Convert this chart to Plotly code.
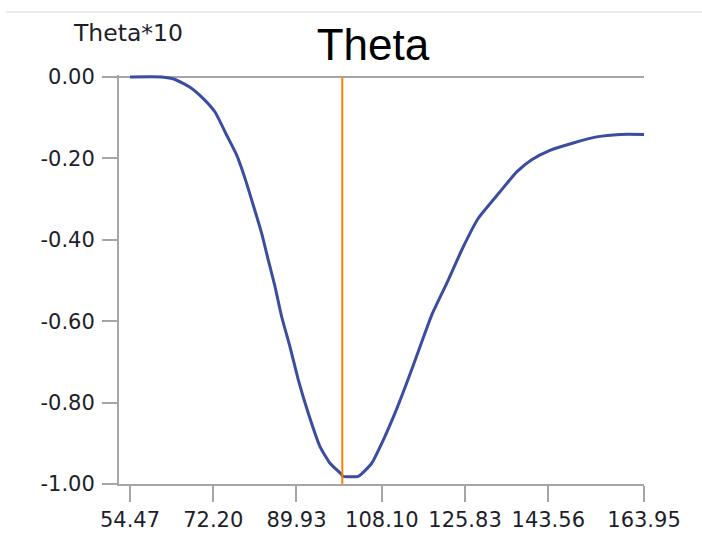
import plotly.graph_objects as go

W, H = 702, 533

# ---- data ----
theta_x = [54.47, 61.22, 64.06, 67.25, 70.08, 72.58, 75.07, 77.20, 78.97, 80.73,
           82.52, 83.93, 85.36, 86.78, 88.55, 90.32, 92.45, 94.94, 97.07, 99.56,
           99.73, 103.10, 105.95, 108.42, 110.91, 113.41, 116.24, 118.73, 121.93,
           125.46, 128.66, 133.28, 136.84, 140.03, 143.93, 148.89, 153.88, 158.84,
           163.95]
theta_y = [0.000, 0.000, -0.006, -0.025, -0.053, -0.086, -0.143, -0.192, -0.249, -0.315,
           -0.384, -0.450, -0.515, -0.589, -0.663, -0.744, -0.826, -0.908, -0.949, -0.977,
           -0.981, -0.981, -0.949, -0.892, -0.826, -0.752, -0.663, -0.585, -0.507,
           -0.417, -0.347, -0.282, -0.233, -0.203, -0.180, -0.162, -0.147, -0.141,
           -0.141]
marker_x = 99.69

x_ticks = [54.47, 72.20, 89.93, 108.10, 125.83, 143.56, 163.95]
x_tick_text = ["54.47", "72.20", "89.93", "108.10", "125.83", "143.56", "163.95"]
y_ticks = [0.0, -0.2, -0.4, -0.6, -0.8, -1.0]
y_tick_text = ["0.00", "-0.20", "-0.40", "-0.60", "-0.80", "-1.00"]

title_text = "Theta"
y_label_text = "Theta*10"

# ---- layout geometry ----
L, R, T, B = 119, 58, 75, 49
pw, ph = W - L - R, H - T - B


def px_x(p):
    return (p - L) / pw


def px_y(p):
    return (H - B - p) / ph


AXIS = "#a6a6a6"
TXT = "#1e1e2a"

fig = go.Figure()
fig.add_trace(go.Scatter(x=theta_x, y=theta_y, mode="lines",
                         line=dict(color="#3a4d9e", width=3, shape="spline", smoothing=0.5),
                         hoverinfo="skip", showlegend=False))

fig.add_shape(type="line", xref="x", yref="y", x0=marker_x, x1=marker_x, y0=-1.0, y1=0.0,
              line=dict(color="#ff7f00", width=2), layer="above")

# faint separator line at the very top
fig.add_shape(type="line", xref="paper", yref="paper", x0=px_x(6), x1=px_x(W), y0=px_y(12), y1=px_y(12),
              line=dict(color="#e9edf2", width=2))

fig.add_annotation(text=y_label_text, xref="paper", yref="paper", x=px_x(71), y=px_y(33),
                   xanchor="left", yanchor="middle", showarrow=False,
                   font=dict(family="DejaVu Sans", size=23.5, color=TXT))

fig.update_layout(
    width=W, height=H, margin=dict(l=L, r=R, t=T, b=B, pad=0, autoexpand=False),
    paper_bgcolor="white", plot_bgcolor="white",
    title=dict(text=title_text, xref="container", yref="container", x=373 / W, y=1 - 45 / H,
               xanchor="center", yanchor="middle",
               font=dict(family="Liberation Sans", size=44, color="black")),
    xaxis=dict(range=[52.13, 163.95], tickmode="array", tickvals=x_ticks, ticktext=x_tick_text,
               automargin=False,
               showgrid=False, zeroline=False, showline=True, linecolor=AXIS, linewidth=2,
               ticks="outside", ticklen=16, tickwidth=2, tickcolor=AXIS,
               tickfont=dict(family="DejaVu Sans", size=21, color=TXT)),
    yaxis=dict(range=[-1.0, 0.005], tickmode="array", tickvals=y_ticks, ticktext=y_tick_text,
               automargin=False,
               showgrid=False, zeroline=True, zerolinecolor=AXIS, zerolinewidth=2,
               showline=True, linecolor=AXIS, linewidth=2,
               ticks="outside", ticklen=15, tickwidth=2, tickcolor=AXIS, ticklabelstandoff=3,
               tickfont=dict(family="DejaVu Sans", size=21, color=TXT)),
)

fig.write_html("out.html")
